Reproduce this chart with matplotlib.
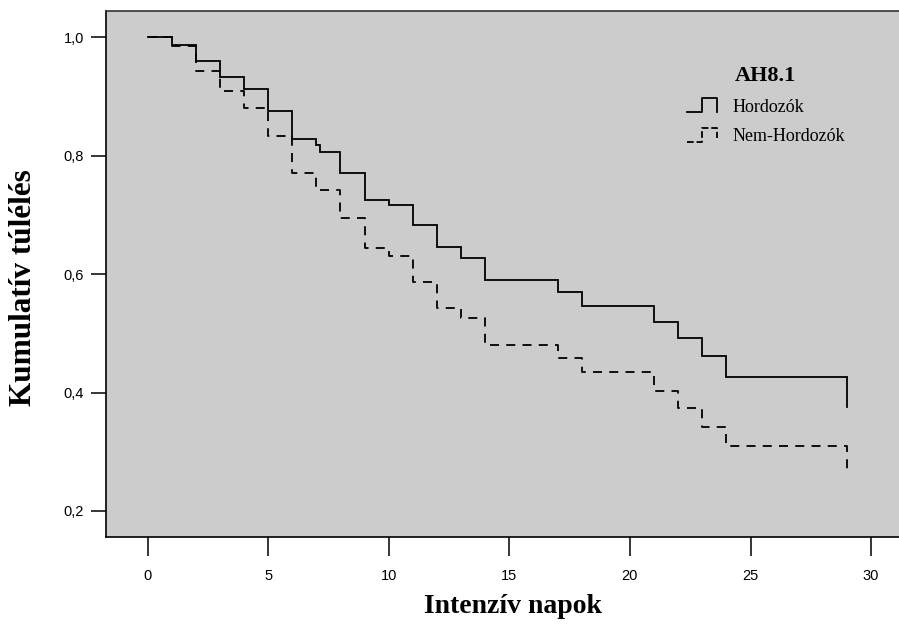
import matplotlib
matplotlib.use("Agg")
import matplotlib.pyplot as plt
from matplotlib.lines import Line2D
from matplotlib.legend_handler import HandlerBase

# ---- data ----
days = [0, 1, 2, 3, 4, 5, 6, 7, 7.17, 8, 9, 10, 11, 12, 13, 14, 17, 18, 21, 22, 23, 24, 29]
carriers = [1.0, 0.986, 0.959, 0.932, 0.912, 0.875, 0.828, 0.818, 0.806, 0.770, 0.725,
            0.716, 0.682, 0.645, 0.627, 0.590, 0.569, 0.546, 0.519, 0.492, 0.461, 0.427, 0.375]
days_nc = [0, 1, 2, 3, 4, 5, 6, 7, 8, 9, 10, 11, 12, 13, 14, 17, 18, 21, 22, 23, 24, 29]
non_carriers = [1.0, 0.984, 0.943, 0.909, 0.881, 0.833, 0.770, 0.742, 0.695, 0.644,
                0.630, 0.586, 0.542, 0.526, 0.481, 0.458, 0.434, 0.403, 0.373, 0.342, 0.309, 0.264]
x_ticks = [0, 5, 10, 15, 20, 25, 30]
y_ticks = [0.2, 0.4, 0.6, 0.8, 1.0]
y_tick_labels = ["0,2", "0,4", "0,6", "0,8", "1,0"]
series_names = ["Hordozók", "Nem-Hordozók"]
legend_title = "AH8.1"
x_label = "Intenzív napok"
y_label = "Kumulatív túlélés"

W, H = 899, 627
fig = plt.figure(figsize=(W / 100, H / 100), dpi=100)
fig.patch.set_facecolor("white")

# axes box in pixels: left 106, top 11, bottom 537; extends past the right edge
left_px, top_px, bot_px = 106, 11, 537
x0_px, px_per_day = 147.5, 24.12
xmax = 32.0
right_px = x0_px + xmax * px_per_day
ax = fig.add_axes([left_px / W, (H - bot_px) / H, (right_px - left_px) / W, (bot_px - top_px) / H])
ax.set_facecolor("#cccccc")

xmin = (left_px - x0_px) / px_per_day
ax.set_xlim(xmin, xmax)
ypp = 592.5  # pixels per unit of y
ax.set_ylim(0.2 - (bot_px - 511) / ypp, 1.0 + (37 - top_px) / ypp)

l1, = ax.plot(days, carriers, drawstyle="steps-post", color="black", lw=1.3,
              solid_joinstyle="miter")
l2, = ax.plot(days_nc, non_carriers, drawstyle="steps-post", color="black", lw=1.3,
              linestyle=(0, (5, 4)))

ax.set_xticks(x_ticks)
ax.set_xticklabels([str(t) for t in x_ticks])
ax.set_yticks(y_ticks)
ax.set_yticklabels(y_tick_labels)

for s in ["left", "bottom", "top", "right"]:
    ax.spines[s].set_linewidth(1.2)
    ax.spines[s].set_color("black")
ax.spines["top"].set_color("#333333")

ax.tick_params(axis="x", length=14, width=1.1, pad=9, labelsize=10.5)
ax.tick_params(axis="y", length=11, width=1.1, pad=5, labelsize=10.5)
for lab in ax.get_xticklabels() + ax.get_yticklabels():
    lab.set_family(["Liberation Sans", "DejaVu Sans"])

ax.set_xlabel(x_label, family="Liberation Serif", fontweight="bold", fontsize=20, labelpad=8)
ax.set_ylabel(y_label, family="Liberation Serif", fontweight="bold", fontsize=22.5)
ax.yaxis.set_label_coords(-0.083, 0.475)


class StepHandler(HandlerBase):
    def create_artists(self, legend, orig_handle, xdescent, ydescent, width, height,
                       fontsize, trans):
        dashed = orig_handle.get_linestyle() not in ("-", "solid")
        xs = [-xdescent, -xdescent + 0.52 * width, -xdescent + 0.52 * width,
              -xdescent + width, -xdescent + width]
        yb = -ydescent - 0.1 * height
        yt = -ydescent + 1.1 * height
        ys = [yb, yb, yt, yt, yb + (0.35 * height if dashed else 0.0)]
        ln = Line2D(xs, ys, color="black", lw=1.3,
                    linestyle=orig_handle.get_linestyle())
        ln.set_transform(trans)
        return [ln]


leg_fs = 13
leg = ax.legend([l1, l2], series_names, handler_map={Line2D: StepHandler()},
                loc="upper left", bbox_to_anchor=((687 - left_px) / (right_px - left_px),
                                                  (bot_px - 66) / (bot_px - top_px)),
                frameon=False, title=legend_title, handlelength=1.65, handleheight=0.6,
                handletextpad=0.85, labelspacing=0.7, borderpad=0, borderaxespad=0,
                prop={"family": "Liberation Serif", "size": leg_fs})
leg.get_title().set_fontfamily("Liberation Serif")
leg.get_title().set_fontweight("bold")
leg.get_title().set_fontsize(16)

fig.savefig("out.png", dpi=100)
